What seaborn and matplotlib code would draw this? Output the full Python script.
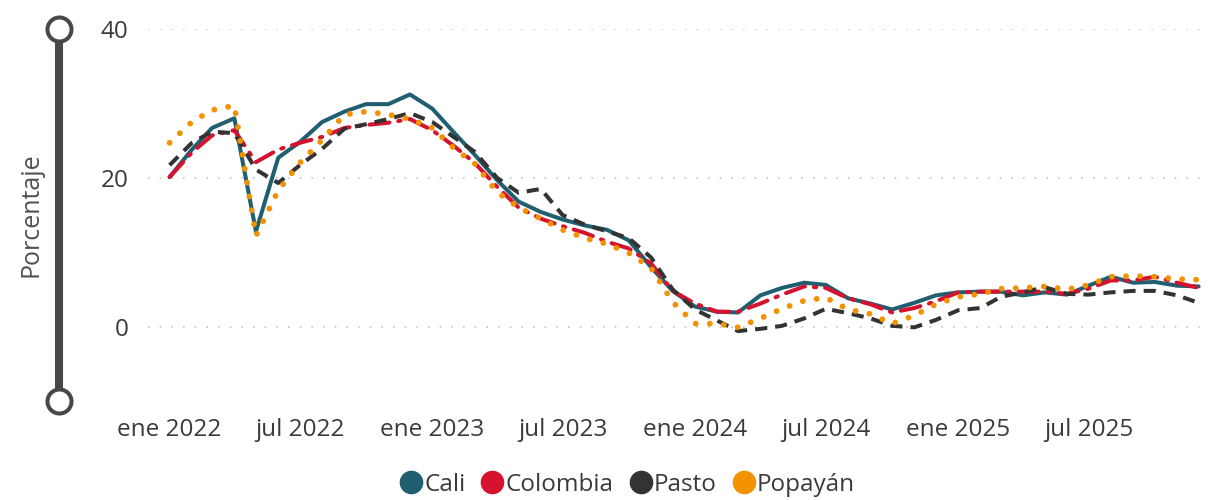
import matplotlib
matplotlib.use("Agg")
import matplotlib.pyplot as plt
from matplotlib.lines import Line2D
import pandas as pd
import seaborn as sns

# Monthly values, Jan 2022 - Dec 2025
months = pd.date_range("2022-01-01", periods=48, freq="MS")

cali = [20.1, 23.8, 26.7, 28.0, 12.8, 22.7, 24.8, 27.5, 28.9, 29.9, 29.9, 31.2,
        29.3, 26.0, 23.1, 19.7, 16.8, 15.4, 14.4, 13.6, 13.0, 11.6, 8.0, 4.8,
        2.7, 2.0, 1.9, 4.2, 5.2, 5.9, 5.6, 3.8, 3.1, 2.3, 3.2, 4.2,
        4.6, 4.7, 4.7, 4.2, 4.6, 4.3, 5.5, 6.7, 5.9, 6.0, 5.5, 5.4]
colombia = [20.1, 23.4, 25.7, 26.4, 22.1, 23.8, 24.7, 25.5, 26.7, 27.1, 27.4, 27.9,
            26.4, 24.2, 22.0, 18.8, 16.0, 14.5, 13.5, 12.6, 11.4, 10.5, 8.5, 4.8,
            3.1, 2.0, 2.0, 3.1, 4.3, 5.4, 5.2, 3.8, 3.0, 1.9, 2.5, 3.4,
            4.6, 4.7, 4.7, 4.7, 4.7, 4.4, 5.1, 6.2, 6.2, 6.7, 5.9, 5.2]
pasto = [21.7, 24.7, 26.2, 26.0, 21.1, 19.3, 21.7, 23.9, 26.6, 27.2, 27.9, 28.7,
         27.5, 25.4, 23.5, 20.0, 18.0, 18.5, 15.0, 13.7, 12.8, 11.9, 9.3, 5.0,
         2.3, 0.8, -0.6, -0.3, 0.1, 1.1, 2.4, 1.8, 1.1, 0.1, -0.1, 0.9,
         2.2, 2.5, 4.0, 4.6, 5.3, 4.4, 4.3, 4.6, 4.8, 4.8, 4.2, 3.2]
popayan = [24.7, 27.5, 29.1, 29.7, 12.2, 18.3, 22.0, 25.1, 28.5, 28.9, 28.5, 27.9,
           26.7, 23.9, 21.9, 18.1, 16.0, 14.5, 13.0, 11.9, 11.1, 9.9, 7.9, 3.3,
           0.4, 0.4, -0.1, 1.1, 2.4, 3.5, 3.9, 2.3, 1.7, 0.4, 1.5, 3.0,
           4.0, 4.4, 5.1, 5.2, 5.4, 5.0, 5.6, 6.7, 6.8, 6.7, 6.4, 6.3]

series_names = ["Cali", "Colombia", "Pasto", "Popayán"]
series_colors = ["#1f5f70", "#d6132f", "#333333", "#f39200"]

tick_dates = pd.to_datetime(["2022-01-01", "2022-07-01", "2023-01-01", "2023-07-01",
                             "2024-01-01", "2024-07-01", "2025-01-01", "2025-07-01"])
tick_labels = ["ene 2022", "jul 2022", "ene 2023", "jul 2023",
               "ene 2024", "jul 2024", "ene 2025", "jul 2025"]
y_ticks = [0, 20, 40]
y_label = "Porcentaje"

df = pd.DataFrame({"Mes": months, "Cali": cali, "Colombia": colombia,
                   "Pasto": pasto, "Popayán": popayan})
long_df = df.melt(id_vars="Mes", var_name="Ciudad", value_name="Valor")

sns.set_theme(style="white")
plt.rcParams["font.family"] = ["Open Sans", "DejaVu Sans"]

W, H = 1214, 500
fig = plt.figure(figsize=(W / 100, H / 100), dpi=100)
ax_left, ax_right, ax_top, ax_bottom = 148, 1208, 29, 401
ax = fig.add_axes([ax_left / W, 1 - ax_bottom / H,
                   (ax_right - ax_left) / W, (ax_bottom - ax_top) / H])

palette = dict(zip(series_names, series_colors))
dash_styles = {"Cali": "", "Colombia": (5, 2.2, 0.6, 2.2),
               "Pasto": (3, 2), "Popayán": (0.01, 2.4)}
sns.lineplot(data=long_df, x="Mes", y="Valor", hue="Ciudad", style="Ciudad",
             hue_order=series_names, style_order=series_names,
             palette=palette, dashes=dash_styles, linewidth=2.9,
             legend=False, ax=ax)

for line, name in zip(ax.lines, series_names):
    if name == "Popayán":
        line.set_linewidth(4.2)
        line.set_dash_capstyle("round")
    elif name == "Colombia":
        line.set_dash_capstyle("round")
    else:
        line.set_dash_capstyle("butt")
    line.set_solid_joinstyle("round")

ax.set_ylim(-10, 40)
ax.set_xlim(pd.Timestamp("2021-12-02"), pd.Timestamp("2025-12-14"))
ax.set_yticks(y_ticks)
ax.set_xticks(tick_dates)
ax.set_xticklabels(tick_labels)
ax.tick_params(axis="x", length=0, pad=12, labelsize=17.5, labelcolor="#3a3a3a")
ax.tick_params(axis="y", length=0, pad=14, labelsize=17.5, labelcolor="#3a3a3a")
ax.yaxis.grid(True, color="#c4c4c4", linestyle=(0, (1, 6)), linewidth=1.2)
ax.xaxis.grid(False)
for s in ax.spines.values():
    s.set_visible(False)
ax.set_xlabel("")
ax.set_ylabel(y_label, fontsize=18, color="#505050")
ax.yaxis.set_label_coords((43 - ax_left) / (ax_right - ax_left), 0.5)

# vertical bar with open circle ends on the left
bar_x = 59 / W
fig.add_artist(Line2D([bar_x, bar_x], [1 - ax_top / H, 1 - ax_bottom / H],
                      transform=fig.transFigure, color="#4a4846", linewidth=5.8,
                      solid_capstyle="butt", marker="o", markersize=17.3,
                      markerfacecolor="white", markeredgecolor="#4a4846",
                      markeredgewidth=2.9, zorder=5))

handles = [Line2D([], [], linestyle="none", marker="o", markersize=16,
                  markerfacecolor=c, markeredgecolor=c) for c in series_colors]
fig.legend(handles, series_names, loc="center", bbox_to_anchor=(0.516, 1 - 485 / H),
           ncol=4, frameon=False, handletextpad=0.0, columnspacing=0.55,
           handlelength=1.1, fontsize=17.5, labelcolor="#3a3a3a")

fig.savefig("out.png", dpi=100)
